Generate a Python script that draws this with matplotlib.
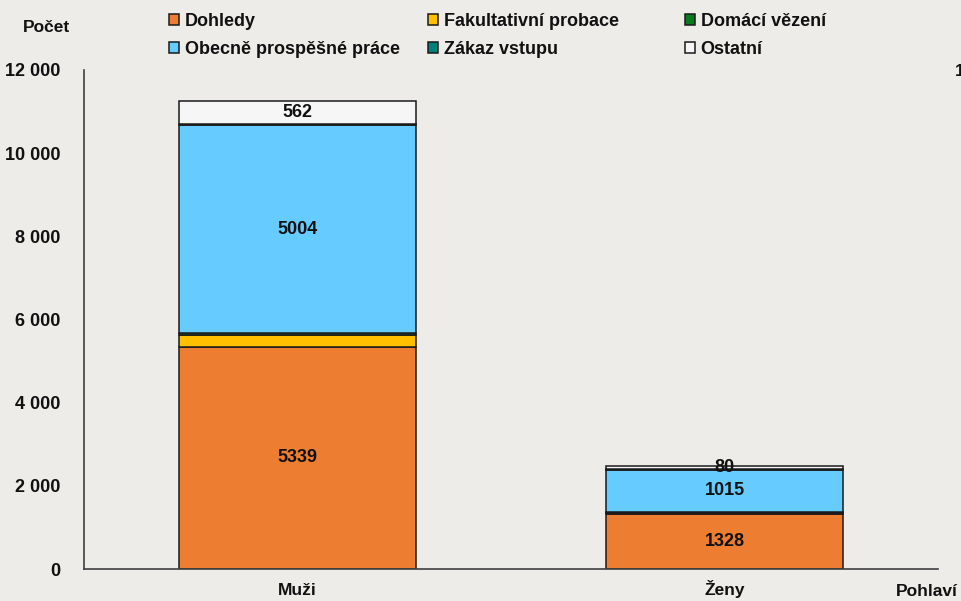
import matplotlib.pyplot as plt
from matplotlib.ticker import FuncFormatter
import numpy as np

categories = ['Muži', 'Ženy']
series_names = ['Dohledy', 'Fakultativní probace', 'Domácí vězení',
                'Obecně prospěšné práce', 'Zákaz vstupu', 'Ostatní']
dohledy = [5339, 1328]
fakultativni = [290, 30]
domaci = [40, 15]
opp = [5004, 1015]
zakaz = [30, 10]
ostatni = [562, 80]
yticks = [0, 2000, 4000, 6000, 8000, 10000, 12000]

colors = ['#ED7D31', '#FFC000', '#0A7A1E', '#66CCFF', '#00807A', '#F6F6F6']
labelled = [True, False, False, True, False, True]

bg = '#EEECE9'
plt.rcParams['font.family'] = ['Liberation Sans', 'DejaVu Sans']

fig = plt.figure(figsize=(9.62, 6.01), dpi=100, facecolor=bg)
ax = fig.add_axes([84/962, 32/601, 854/962, 499/601])
ax.set_facecolor('none')

x = np.arange(len(categories))
bottom = np.zeros(len(categories))
bars = []
for name, vals, c, lab in zip(series_names, [dohledy, fakultativni, domaci, opp, zakaz, ostatni], colors, labelled):
    b = ax.bar(x, vals, width=0.555, bottom=bottom, color=c, edgecolor='#1a1a1a',
               linewidth=1.1, label=name)
    bars.append(b)
    if lab:
        ax.bar_label(b, labels=[str(v) for v in vals], label_type='center',
                     fontsize=13, fontweight='bold', color='#111111')
    bottom += np.array(vals)

ax.set_xlim(-0.5, 1.5)
ax.set_ylim(0, 12000)
ax.set_yticks(yticks)
ax.yaxis.set_major_formatter(FuncFormatter(lambda v, p: f'{int(v):,}'.replace(',', ' ')))
ax.set_xticks(x)
ax.set_xticklabels(categories)
for lbl in ax.get_yticklabels():
    lbl.set_fontweight('bold')
    lbl.set_fontsize(13)
    lbl.set_color('#111111')
for lbl in ax.get_xticklabels():
    lbl.set_fontweight('bold')
    lbl.set_fontsize(12.5)
    lbl.set_color('#111111')
    lbl.set_verticalalignment('baseline')
ax.tick_params(axis='y', length=0, pad=17)
ax.tick_params(axis='x', length=0, pad=18.5)
for s in ['top', 'right']:
    ax.spines[s].set_visible(False)
for s in ['left', 'bottom']:
    ax.spines[s].set_color('#404040')
    ax.spines[s].set_linewidth(1.2)

# legend, three columns placed one by one
cols = [(0, 3), (1, 4), (2, 5)]
xs = [153, 412, 669]
for (i, j), xp in zip(cols, xs):
    leg = fig.legend([bars[i], bars[j]], [series_names[i], series_names[j]],
                     loc='upper left', bbox_to_anchor=(xp/962, 1 + 3/601),
                     frameon=False, handlelength=0.55, handleheight=0.55,
                     handletextpad=0.3, labelspacing=0.58,
                     prop={'weight': 'bold', 'size': 13})
    for t in leg.get_texts():
        t.set_color('#111111')

fig.text(47/962, 1 - 28/601, 'Počet', ha='center', va='center',
         fontsize=12.5, fontweight='bold', color='#111111')
fig.text(896/962, 1 - 592/601, 'Pohlaví', ha='left', va='center',
         fontsize=12.5, fontweight='bold', color='#111111')
fig.text(955/962, 1 - 71/601, '1', ha='left', va='center',
         fontsize=12.5, fontweight='bold', color='#111111')

fig.savefig('out.png', dpi=100, facecolor=bg)
